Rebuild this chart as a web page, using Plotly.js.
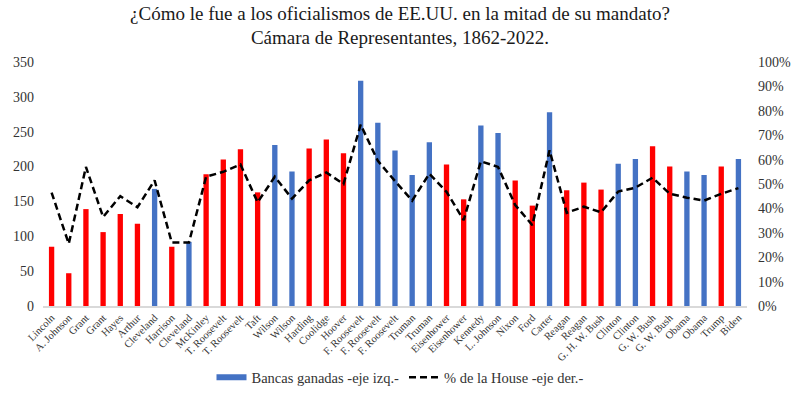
<!DOCTYPE html>
<html>
<head>
<meta charset="utf-8">
<script src="https://cdn.plot.ly/plotly-3.0.1.min.js"></script>
<style>html,body{margin:0;padding:0;background:#fff;}#chart{width:800px;height:393px;}</style>
</head>
<body>
<div id="chart"></div>
<script>
const presidents = ["Lincoln","A. Johnson","Grant","Grant","Hayes","Arthur","Cleveland","Harrison","Cleveland","McKinley","T. Roosevelt","T. Roosevelt","Taft","Wilson","Wilson","Harding","Coolidge","Hoover","F. Roosevelt","F. Roosevelt","F. Roosevelt","Truman","Truman","Eisenhower","Eisenhower","Kennedy","L. Johnson","Nixon","Ford","Carter","Reagan","Reagan","G. H. W. Bush","Clinton","Clinton","G. W. Bush","G. W. Bush","Obama","Obama","Trump","Biden"];
const party = ["R","R","R","R","R","R","D","R","D","R","R","R","R","D","D","R","R","R","D","D","D","D","D","R","R","D","D","R","R","D","R","R","R","D","D","R","R","D","D","R","D"];
const seats = [85,47,139,106,132,118,168,85,92,189,210,225,163,231,193,226,239,219,323,263,223,188,235,203,153,259,248,180,144,278,166,177,167,204,211,229,200,193,188,200,211];
const housePct = [0.465,0.255,0.57,0.365,0.45,0.405,0.515,0.26,0.26,0.53,0.55,0.58,0.425,0.53,0.44,0.515,0.547,0.50,0.743,0.595,0.512,0.432,0.542,0.468,0.352,0.593,0.57,0.414,0.331,0.638,0.382,0.407,0.384,0.469,0.485,0.526,0.46,0.444,0.432,0.46,0.483];
const leftTicks = [0,50,100,150,200,250,300,350];
const partyColor = {R: "#FF0000", D: "#4472C4"};

const idx = presidents.map((_, i) => i);
const font = "Liberation Serif, Georgia, serif";

const bars = {
  type: "bar",
  x: idx,
  y: seats,
  width: 0.31,
  marker: {color: party.map(p => partyColor[p])},
  showlegend: false,
  hoverinfo: "y"
};
const legendBar = {
  type: "scatter",
  mode: "lines",
  x: [null],
  y: [null],
  name: "Bancas ganadas -eje izq.-",
  line: {color: "#4472C4", width: 6}
};
const line = {
  type: "scatter",
  mode: "lines",
  x: idx,
  y: housePct,
  yaxis: "y2",
  name: "% de la House -eje der.-",
  line: {color: "#000000", width: 2.5, dash: "7px,4px"}
};

const layout = {
  width: 800,
  height: 393,
  margin: {l: 43, r: 53, t: 62, b: 87},
  paper_bgcolor: "#ffffff",
  plot_bgcolor: "#ffffff",
  font: {family: font, color: "#222"},
  title: {
    text: "¿Cómo le fue a los oficialismos de EE.UU. en la mitad de su mandato?<br>Cámara de Representantes, 1862-2022.",
    x: 0.5, xanchor: "center", y: 0.95, yanchor: "top",
    font: {family: font, size: 19, color: "#1a1a1a"}
  },
  xaxis: {
    range: [-0.5, presidents.length - 0.5],
    tickmode: "array",
    tickvals: idx,
    ticktext: presidents,
    tickangle: -45,
    tickfont: {size: 10.5, family: font, color: "#333"},
    showgrid: false,
    zeroline: false,
    showline: true,
    linecolor: "#D9D9D9",
    linewidth: 1.5,
    ticks: "",
    automargin: false
  },
  yaxis: {
    range: [0, 350],
    tickmode: "array",
    tickvals: leftTicks,
    tickfont: {size: 14, family: font, color: "#333"},
    showgrid: false,
    zeroline: false,
    showline: false,
    ticks: "",
    ticklabelstandoff: 8,
    automargin: false
  },
  yaxis2: {
    overlaying: "y",
    side: "right",
    range: [0, 1],
    dtick: 0.1,
    tickformat: ".0%",
    tickfont: {size: 14, family: font, color: "#333"},
    showgrid: false,
    zeroline: false,
    showline: false,
    ticks: "",
    ticklabelstandoff: 10,
    automargin: false
  },
  legend: {
    orientation: "h",
    xref: "container",
    yref: "container",
    x: 0.5, xanchor: "center",
    y: 0.04, yanchor: "middle",
    font: {size: 14.5, family: font, color: "#333"},
    itemwidth: 30,
    tracegroupgap: 0
  },
  bargap: 0.69
};

Plotly.newPlot("chart", [bars, legendBar, line], layout, {displayModeBar: false, staticPlot: true});
</script>
</body>
</html>
